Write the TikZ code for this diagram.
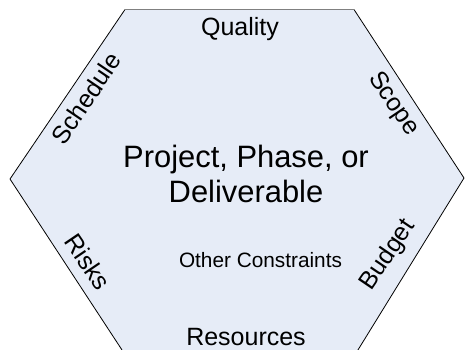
\documentclass[tikz,border=0pt]{standalone}
\usepackage{fontspec}
\setmainfont{Liberation Sans}
\definecolor{hexfill}{RGB}{230,236,247}
\definecolor{topedge}{RGB}{128,128,128}
\begin{document}
\begin{tikzpicture}[x=1pt,y=-1pt,
  edgelbl/.style={font=\fontsize{25}{29}\selectfont, inner sep=0pt},
  mainlbl/.style={font=\fontsize{30.9}{34.5}\selectfont, inner sep=0pt, align=center},
  otherlbl/.style={font=\fontsize{20.8}{24}\selectfont, inner sep=0pt},
  hexedge/.style={draw=black, line width=0.8pt}]
\useasboundingbox (0,0) rectangle (465,349);
\clip (0,0) rectangle (465,349);
\coordinate (tl) at (125,9.5);
\coordinate (tr) at (354,9.5);
\coordinate (r) at (464,178);
\coordinate (br) at (357,351.5);
\coordinate (bl) at (123,351.5);
\coordinate (l) at (10,179);
\fill[hexfill] (tl) -- (tr) -- (r) -- (br) -- (bl) -- (l) -- cycle;
\draw[hexedge] (tr) -- (r) -- (br) -- (bl) -- (l) -- (tl);
\draw[topedge, line width=1.8pt] (tl) -- (tr);
\node[edgelbl, anchor=base] (quality) at (240,35) {Quality};
\node[mainlbl] (main) at (246,174) {Project, Phase, or\\Deliverable};
\node[otherlbl, anchor=base] (other) at (260.5,267.3) {Other Constraints};
\node[edgelbl, anchor=base] (resources) at (246,345) {Resources};
\node[edgelbl, rotate=55.8] (schedule) at (86,98) {Schedule};
\node[edgelbl, rotate=-55.8] (scope) at (393,104) {Scope};
\node[edgelbl, rotate=-55.8] (risks) at (88,262) {Risks};
\node[edgelbl, rotate=55.8] (budget) at (388,255) {Budget};
\end{tikzpicture}
\end{document}
